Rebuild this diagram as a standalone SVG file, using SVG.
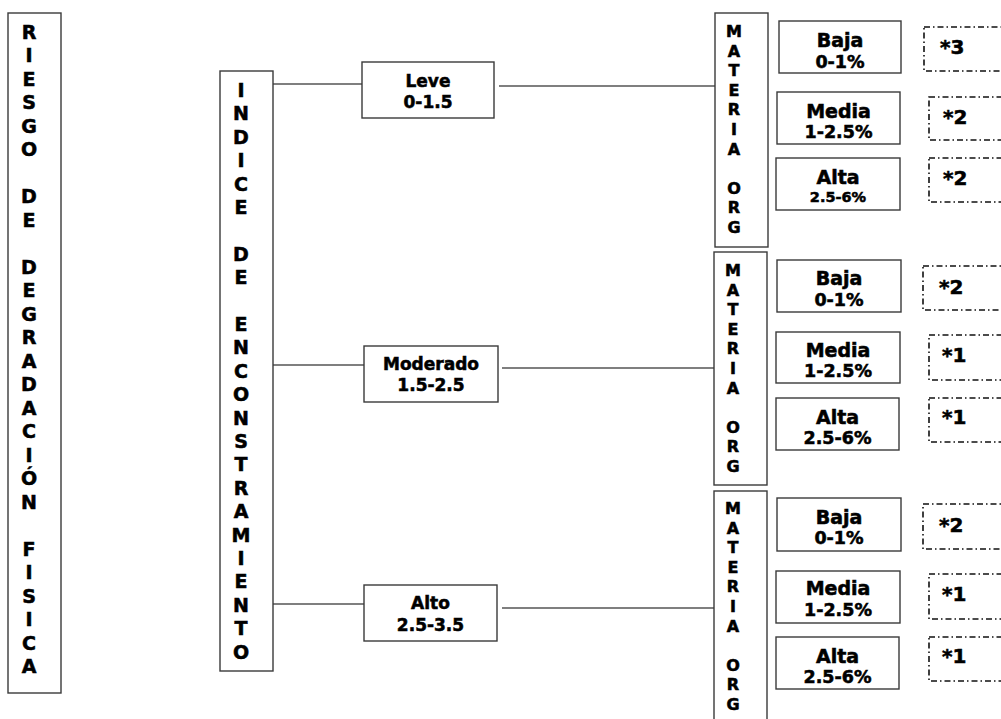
<svg xmlns="http://www.w3.org/2000/svg" width="1001" height="719" viewBox="0 0 1001 719">
<style>
text{font-family:"DejaVu Sans","Liberation Sans",sans-serif;font-weight:bold;fill:#000;stroke:#000;stroke-width:0.55}
.box{fill:#fff;stroke:#3a3a3a;stroke-width:1.4}
.dash{fill:none;stroke:#111;stroke-width:1.6;stroke-dasharray:6 3 1.5 3}
.ln{stroke:#555;stroke-width:1.4;fill:none}
.v{font-size:19px;text-anchor:middle}
.m{font-size:16px;text-anchor:middle}
.lv{font-size:17px;text-anchor:middle}
.t1{font-size:19px;text-anchor:middle}
.t2{font-size:17.5px;text-anchor:middle}
.t3{font-size:14.5px;text-anchor:middle}
.st{font-size:20px}
</style>
<rect width="1001" height="719" fill="#fff"/>
<g id="connectors">
<path class="ln" d="M273 84H362M499 86H715"/>
<path class="ln" d="M273 365H364M502 368H714"/>
<path class="ln" d="M273 604H364M502 608H714"/>
</g>
<g id="riesgo">
<rect class="box" x="8" y="13" width="53" height="680"/>
<text class="v"><tspan x="29" y="38.5">R</tspan><tspan x="29" dy="23.5">I</tspan><tspan x="29" dy="23.5">E</tspan><tspan x="29" dy="23.5">S</tspan><tspan x="29" dy="23.5">G</tspan><tspan x="29" dy="23.5">O</tspan><tspan x="29" dy="47">D</tspan><tspan x="29" dy="23.5">E</tspan><tspan x="29" dy="47">D</tspan><tspan x="29" dy="23.5">E</tspan><tspan x="29" dy="23.5">G</tspan><tspan x="29" dy="23.5">R</tspan><tspan x="29" dy="23.5">A</tspan><tspan x="29" dy="23.5">D</tspan><tspan x="29" dy="23.5">A</tspan><tspan x="29" dy="23.5">C</tspan><tspan x="29" dy="23.5">I</tspan><tspan x="29" dy="23.5">Ó</tspan><tspan x="29" dy="23.5">N</tspan><tspan x="29" dy="47">F</tspan><tspan x="29" dy="23.5">I</tspan><tspan x="29" dy="23.5">S</tspan><tspan x="29" dy="23.5">I</tspan><tspan x="29" dy="23.5">C</tspan><tspan x="29" dy="23.5">A</tspan></text>
</g>
<g id="indice">
<rect class="box" x="220" y="71" width="53" height="600"/>
<text class="v"><tspan x="241" y="97">I</tspan><tspan x="241" dy="23.4">N</tspan><tspan x="241" dy="23.4">D</tspan><tspan x="241" dy="23.4">I</tspan><tspan x="241" dy="23.4">C</tspan><tspan x="241" dy="23.4">E</tspan><tspan x="241" dy="46.8">D</tspan><tspan x="241" dy="23.4">E</tspan><tspan x="241" dy="46.8">E</tspan><tspan x="241" dy="23.4">N</tspan><tspan x="241" dy="23.4">C</tspan><tspan x="241" dy="23.4">O</tspan><tspan x="241" dy="23.4">N</tspan><tspan x="241" dy="23.4">S</tspan><tspan x="241" dy="23.4">T</tspan><tspan x="241" dy="23.4">R</tspan><tspan x="241" dy="23.4">A</tspan><tspan x="241" dy="23.4">M</tspan><tspan x="241" dy="23.4">I</tspan><tspan x="241" dy="23.4">E</tspan><tspan x="241" dy="23.4">N</tspan><tspan x="241" dy="23.4">T</tspan><tspan x="241" dy="23.4">O</tspan></text>
</g>
<g id="leve">
<rect class="box" x="362" y="62" width="132" height="56"/>
<text class="lv"><tspan x="428" y="87">Leve</tspan><tspan x="428" y="108">0-1.5</tspan></text>
</g>
<g id="moderado">
<rect class="box" x="364" y="346" width="134" height="56"/>
<text class="lv"><tspan x="431" y="370">Moderado</tspan><tspan x="431" y="391">1.5-2.5</tspan></text>
</g>
<g id="alto">
<rect class="box" x="364" y="585" width="133" height="56"/>
<text class="lv"><tspan x="430.5" y="609">Alto</tspan><tspan x="430.5" y="631">2.5-3.5</tspan></text>
</g>
<g id="materia1">
<rect class="box" x="715" y="13" width="53" height="234"/>
<text class="m"><tspan x="734" y="37">M</tspan><tspan x="734" dy="19.6">A</tspan><tspan x="734" dy="19.6">T</tspan><tspan x="734" dy="19.6">E</tspan><tspan x="734" dy="19.6">R</tspan><tspan x="734" dy="19.6">I</tspan><tspan x="734" dy="19.6">A</tspan><tspan x="734" dy="39.2">O</tspan><tspan x="734" dy="19.6">R</tspan><tspan x="734" dy="19.6">G</tspan></text>
</g>
<g id="materia2">
<rect class="box" x="714" y="252" width="53" height="233"/>
<text class="m"><tspan x="733" y="276">M</tspan><tspan x="733" dy="19.6">A</tspan><tspan x="733" dy="19.6">T</tspan><tspan x="733" dy="19.6">E</tspan><tspan x="733" dy="19.6">R</tspan><tspan x="733" dy="19.6">I</tspan><tspan x="733" dy="19.6">A</tspan><tspan x="733" dy="39.2">O</tspan><tspan x="733" dy="19.6">R</tspan><tspan x="733" dy="19.6">G</tspan></text>
</g>
<g id="materia3">
<rect class="box" x="714" y="491" width="53" height="240"/>
<text class="m"><tspan x="733" y="514">M</tspan><tspan x="733" dy="19.6">A</tspan><tspan x="733" dy="19.6">T</tspan><tspan x="733" dy="19.6">E</tspan><tspan x="733" dy="19.6">R</tspan><tspan x="733" dy="19.6">I</tspan><tspan x="733" dy="19.6">A</tspan><tspan x="733" dy="39.2">O</tspan><tspan x="733" dy="19.6">R</tspan><tspan x="733" dy="19.6">G</tspan></text>
</g>
<g id="baja1"><rect class="box" x="779" y="21" width="122" height="52"/><text><tspan class="t1" x="840" y="47">Baja</tspan><tspan class="t2" x="840" y="68">0-1%</tspan></text></g>
<g id="media1"><rect class="box" x="777" y="92" width="123" height="52"/><text><tspan class="t1" x="838.5" y="118">Media</tspan><tspan class="t2" x="838.5" y="138">1-2.5%</tspan></text></g>
<g id="alta1"><rect class="box" x="776" y="158" width="124" height="52"/><text><tspan class="t1" x="838" y="184">Alta</tspan><tspan class="t3" x="838" y="202">2.5-6%</tspan></text></g>
<g id="baja2"><rect class="box" x="777" y="260" width="124" height="52"/><text><tspan class="t1" x="839" y="285">Baja</tspan><tspan class="t2" x="839" y="306">0-1%</tspan></text></g>
<g id="media2"><rect class="box" x="776" y="332" width="124" height="51"/><text><tspan class="t1" x="838" y="357">Media</tspan><tspan class="t2" x="838" y="377">1-2.5%</tspan></text></g>
<g id="alta2"><rect class="box" x="776" y="398" width="123" height="52"/><text><tspan class="t1" x="837.5" y="424">Alta</tspan><tspan class="t2" x="837.5" y="444">2.5-6%</tspan></text></g>
<g id="baja3"><rect class="box" x="777" y="498" width="124" height="53"/><text><tspan class="t1" x="839" y="524">Baja</tspan><tspan class="t2" x="839" y="544">0-1%</tspan></text></g>
<g id="media3"><rect class="box" x="776" y="571" width="124" height="52"/><text><tspan class="t1" x="838" y="595">Media</tspan><tspan class="t2" x="838" y="616">1-2.5%</tspan></text></g>
<g id="alta3"><rect class="box" x="776" y="637" width="123" height="52"/><text><tspan class="t1" x="837.5" y="663">Alta</tspan><tspan class="t2" x="837.5" y="683">2.5-6%</tspan></text></g>
<g id="n1a"><rect class="dash" x="924" y="27" width="90" height="44"/><text class="st" x="940" y="54">*3</text></g>
<g id="n1b"><rect class="dash" x="929" y="97" width="90" height="43"/><text class="st" x="943" y="124">*2</text></g>
<g id="n1c"><rect class="dash" x="929" y="158" width="90" height="44"/><text class="st" x="943" y="185">*2</text></g>
<g id="n2a"><rect class="dash" x="923" y="266" width="90" height="44"/><text class="st" x="939" y="294">*2</text></g>
<g id="n2b"><rect class="dash" x="929" y="335" width="90" height="45"/><text class="st" x="942" y="362">*1</text></g>
<g id="n2c"><rect class="dash" x="929" y="398" width="90" height="44"/><text class="st" x="942" y="424">*1</text></g>
<g id="n3a"><rect class="dash" x="923" y="504" width="90" height="45"/><text class="st" x="939" y="532">*2</text></g>
<g id="n3b"><rect class="dash" x="929" y="574" width="90" height="45"/><text class="st" x="942" y="601">*1</text></g>
<g id="n3c"><rect class="dash" x="929" y="637" width="90" height="44"/><text class="st" x="942" y="663">*1</text></g>
</svg>
